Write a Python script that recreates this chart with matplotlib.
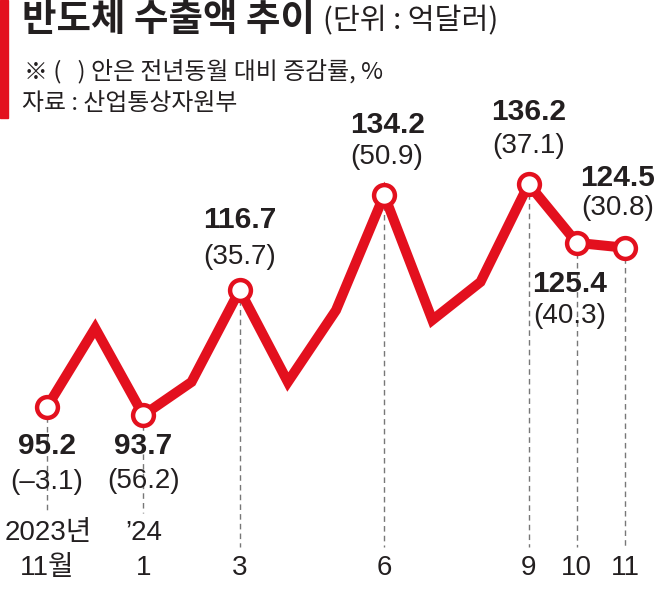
# Semiconductor export trend chart (monthly, 100M USD)

import numpy as np
import matplotlib
matplotlib.use('Agg')
import matplotlib.pyplot as plt
from matplotlib.patches import Rectangle
import matplotlib.transforms as mtransforms

# data
months = ['2023-11', '2023-12', '2024-01', '2024-02', '2024-03', '2024-04', '2024-05',
          '2024-06', '2024-07', '2024-08', '2024-09', '2024-10', '2024-11']
exports = [95.2, 109.7, 93.7, 99.8, 116.7, 99.8, 113.0, 134.2, 111.2, 118.2, 136.2, 125.4, 124.5]

labeled_idx = [0, 2, 4, 7, 10, 11, 12]
yoy_growth = ['–3.1', '56.2', '35.7', '50.9', '37.1', '40.3', '30.8']
tick_top = ['2023년', '’24', '', '', '', '', '']
tick_bottom = ['11월', '1', '3', '6', '9', '10', '11']

RED = '#E3101E'
INK = '#231F20'
NUM_FONT = ['Liberation Sans', 'Noto Sans CJK KR', 'DejaVu Sans']
KR_FONT = ['Noto Sans CJK KR', 'DejaVu Sans']

W, H = 661, 591
fig = plt.figure(figsize=(W / 100, H / 100), dpi=100)
ax = fig.add_axes([0, 0, 1, 1])
ax.axis('off')

# map pixel layout to data: month 0 at x=47px, month 12 at x=625px
px_per_month = (625 - 47) / 12
ax.set_xlim(-47 / px_per_month, 12 + (W - 625) / px_per_month)
# 95.2 at y=407px, 134.2 at y=195px
px_per_unit = (407 - 195) / (134.2 - 95.2)
ymin = 95.2 - (H - 407) / px_per_unit
ax.set_ylim(ymin, 95.2 + 407 / px_per_unit)

x = np.arange(len(months))
y = np.array(exports)

ax.plot(x, y, color=RED, lw=7.2, solid_joinstyle='miter', zorder=3)
lx = x[labeled_idx]
ly = y[labeled_idx]
ax.plot(lx, ly, 'o', ms=15, mfc='white', mec=RED, mew=3.2, zorder=4)

# dashed guides down to the month labels
blend = mtransforms.blended_transform_factory(ax.transData, ax.transAxes)
for i, (xi, yi) in enumerate(zip(lx, ly)):
    bottom_px = 513 if tick_top[i] else 547
    ax.plot([xi, xi], [yi, ymin + (H - bottom_px) / px_per_unit],
            color='#777777', lw=1.0, ls=(0, (4, 3)), zorder=1)

# value labels: offsets in pixels (x shift, bold value, growth in parens)
offsets = [(0, -39, -75), (0, -31, -66), (0, 70, 33), (3, 70, 38),
           (0, 72, 38), (-7, -41, -73), (-7, 70, 40)]
for i, (xi, yi) in enumerate(zip(lx, ly)):
    dx, dy1, dy2 = offsets[i]
    ax.annotate(f'{exports[labeled_idx[i]]:.1f}', (xi, yi), xytext=(dx, dy1),
                textcoords='offset pixels', ha='center', va='center',
                fontsize=21.5, fontweight='bold', family=NUM_FONT, color=INK, zorder=5)
    ax.annotate(f'({yoy_growth[i]})', (xi, yi), xytext=(dx, dy2),
                textcoords='offset pixels', ha='center', va='center',
                fontsize=20, family=NUM_FONT, color=INK, zorder=5)

# month labels
for i, xi in enumerate(lx):
    shift = 0.03 if i == 0 else 0
    if tick_top[i]:
        ax.text(xi + shift, 1 - 533 / H, tick_top[i], transform=blend, ha='center',
                va='center', fontsize=20, family=NUM_FONT, color=INK)
    ax.text(xi, 1 - 568 / H, tick_bottom[i], transform=blend, ha='center', va='center',
            fontsize=20, family=NUM_FONT, color=INK)

# header
fig.patches.append(Rectangle((0, 1 - 118 / H), 8 / W, 118 / H, transform=fig.transFigure,
                             color=RED, zorder=0))
fig.text(22 / W, 1 - 20 / H, '반도체 수출액 추이', ha='left', va='center', fontsize=27,
         fontweight='bold', family=KR_FONT, color=INK)
fig.text(323 / W, 1 - 21 / H, '(단위 : 억달러)', ha='left', va='center', fontsize=21,
         family=KR_FONT, color=INK)
fig.text(24 / W, 1 - 71 / H, '※ (   ) 안은 전년동월 대비 증감률, %', ha='left', va='center',
         fontsize=17.2, family=KR_FONT, color=INK)
fig.text(22 / W, 1 - 104 / H, '자료 : 산업통상자원부', ha='left', va='center',
         fontsize=17.2, family=KR_FONT, color=INK)

fig.savefig('out.png', dpi=100)
